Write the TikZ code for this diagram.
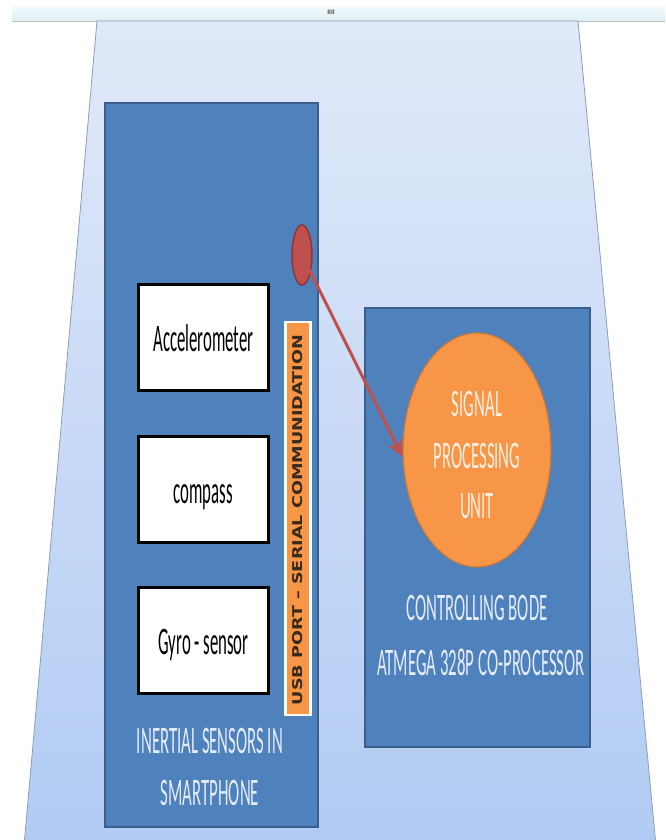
\documentclass[tikz,border=0pt]{standalone}
\usepackage{fontspec}
\setmainfont{Carlito}
\newfontfamily\barfont{DejaVu Sans}
\usetikzlibrary{shapes.geometric,arrows.meta}
\definecolor{panelblue}{HTML}{4F81BD}
\definecolor{panelline}{HTML}{3A5F8C}
\definecolor{usbred}{HTML}{C0504D}
\definecolor{usbredline}{HTML}{8C3836}
\definecolor{orangefill}{HTML}{F79646}
\definecolor{orangeline}{HTML}{C9783A}
\definecolor{lighttext}{HTML}{E4ECF7}
\definecolor{peachtext}{HTML}{FDEEE2}
\definecolor{bartext}{HTML}{3A2A1E}
\definecolor{trapline}{HTML}{8C9DB5}
\definecolor{traptop}{HTML}{E0E9F8}
\definecolor{trapbottom}{HTML}{B2CBF4}
\definecolor{striptop}{HTML}{F2FAFC}
\definecolor{stripbottom}{HTML}{DDF0F5}
\newcommand{\hsq}[1]{\scalebox{0.43}[1]{#1}}
\tikzset{
  panel/.style={rectangle, fill=panelblue, draw=panelline, line width=1.5pt, inner sep=0pt},
  sensorbox/.style={rectangle, fill=white, draw=black, line width=3pt, minimum width=130pt, minimum height=106pt, inner sep=0pt, text height=28pt, text depth=0pt, font=\fontsize{39}{47}\selectfont},
  bluelabel/.style={anchor=base, inner sep=0pt, text=lighttext, font=\fontsize{39}{47}\selectfont},
  spulabel/.style={anchor=base, inner sep=0pt, text=peachtext, font=\fontsize{39}{47}\selectfont},
  link/.style={draw=usbred, line width=3pt, -{Stealth[length=17pt,width=15pt,inset=5pt]}}
}
\begin{document}
\begin{tikzpicture}[x=1pt,y=-1pt]
\useasboundingbox (0,0) rectangle (665,840);
\clip (0,0) rectangle (665,840);
% top strip
\fill[top color=striptop, bottom color=stripbottom] (12,7) rectangle (665,21);
\draw[color=gray!50] (12,21) -- (665,21);
\node[inner sep=0pt, font=\fontsize{7}{8}\selectfont\bfseries, text=gray!60!black] (dots) at (331,12) {IIII};
% trapezoid background
\path[top color=traptop, bottom color=trapbottom, draw=trapline, line width=0.8pt]
  (97,21) -- (578,21) -- (656,846) -- (24,846) -- cycle;
% panels
\node[panel, minimum width=213pt, minimum height=724pt] (phone) at (211.5,465) {};
\node[panel, minimum width=225pt, minimum height=439pt] (ctrl) at (477.5,527.5) {};
% sensor boxes
\node[sensorbox] (acc) at (203.5,337) {\hsq{Accelerometer}};
\node[sensorbox] (comp) at (203,489) {\hsq{compass}};
\node[sensorbox] (gyro) at (203.5,640) {\hsq{Gyro - sensor}};
% usb bar
\node[rectangle, fill=orangefill, draw=white, line width=2.5pt, minimum width=25pt, minimum height=393pt, inner sep=0pt] (bar) at (298,518.5) {};
\node[rotate=90, inner sep=0pt, text=bartext] (bartxt) at (298,520) {\resizebox{370pt}{10pt}{\barfont\bfseries USB PORT – SERIAL COMMUNIDATION}};
% usb port
\node[ellipse, fill=usbred, draw=usbredline, line width=1.5pt, minimum width=20pt, minimum height=60pt, inner sep=0pt] (usb) at (302,255) {};
% signal processing unit
\node[ellipse, fill=orangefill, draw=orangeline, line width=1.2pt, minimum width=148pt, minimum height=234pt, inner sep=0pt] (spu) at (477,450) {};
\node[spulabel] (spu1) at (477,416) {\hsq{SIGNAL}};
\node[spulabel] (spu2) at (477,468) {\hsq{PROCESSING}};
\node[spulabel] (spu3) at (477,518) {\hsq{UNIT}};
% labels
\node[bluelabel] (ctrl1) at (477,620) {\hsq{CONTROLLING BODE}};
\node[bluelabel] (ctrl2) at (481,675) {\hsq{ATMEGA 328P CO-PROCESSOR}};
\node[bluelabel] (phone1) at (210,753) {\hsq{INERTIAL SENSORS IN}};
\node[bluelabel] (phone2) at (210,805) {\hsq{SMARTPHONE}};
% connector
\draw[link] (usb.center) -- ([yshift=-7pt]spu.west);
\end{tikzpicture}
\end{document}
